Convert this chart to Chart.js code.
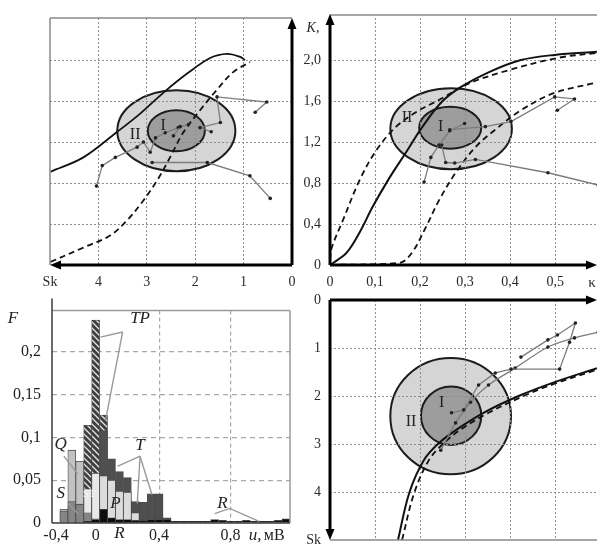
<!DOCTYPE html>
<html>
<head>
<meta charset="utf-8">
<script src="https://cdn.jsdelivr.net/npm/chart.js@4.4.1/dist/chart.umd.min.js"></script>
<style>
  body { margin: 0; background: #fff; width: 601px; height: 548px; position: relative; overflow: hidden; }
  canvas { position: absolute; }
</style>
</head>
<body>
<canvas id="tl" width="300" height="300" style="left:0;top:0"></canvas>
<canvas id="tr" width="301" height="300" style="left:300px;top:0"></canvas>
<canvas id="bl" width="300" height="258" style="left:0;top:290px"></canvas>
<canvas id="br" width="301" height="258" style="left:300px;top:290px"></canvas>
<script>
// ---- tick labels ----
const kTicks = [0, 0.4, 0.8, 1.2, 1.6, 2.0];
const kLabels = ['0', '0,4', '0,8', '1,2', '1,6', '2,0'];
const skTicks = [0, 1, 2, 3, 4, 5];
const skLabels = ['0', '1', '2', '3', '4', 'Sk'];
const kappaTicks = [0, 0.1, 0.2, 0.3, 0.4, 0.5];
const kappaLabels = ['0', '0,1', '0,2', '0,3', '0,4', '0,5'];
const fTicks = [0, 0.05, 0.1, 0.15, 0.2];
const fLabels = ['0', '0,05', '0,1', '0,15', '0,2'];

// ---- top left: K against Sk ----
const tlSolid = [[4.99, 0.91], [4.31, 1.05], [3.61, 1.30], [3.13, 1.48], [2.66, 1.68], [2.16, 1.87], [1.69, 2.02], [1.34, 2.06], [1.07, 2.03], [0.97, 2.0]];
const tlDashed = [[4.99, 0.03], [4.31, 0.17], [3.75, 0.29], [3.40, 0.44], [3.07, 0.63], [2.78, 0.83], [2.52, 1.05], [2.25, 1.29], [1.90, 1.51], [1.55, 1.71], [1.22, 1.88], [0.87, 1.98]];
const tlTrack1 = [[4.04, 0.77], [3.92, 0.97], [3.65, 1.05], [3.20, 1.15], [3.07, 1.20], [2.93, 1.10], [2.82, 1.24], [2.62, 1.29], [2.35, 1.34]];
const tlTrack2 = [[2.89, 1.0], [1.75, 1.0], [0.87, 0.87], [0.45, 0.65]];
const tlTrack3 = [[0.76, 1.49], [0.52, 1.59], [1.55, 1.64], [1.48, 1.39], [1.90, 1.34], [1.67, 1.30]];
const tlTrack4 = [[2.45, 1.26], [2.31, 1.35], [2.14, 1.37]];
const tlZoneII = [2.39, 1.31, 1.22, 0.395];   // centre Sk, centre K, half-width, half-height
const tlZoneI = [2.39, 1.31, 0.59, 0.20];

// ---- top right: K against kappa ----
const trSolid = [[0, 0], [0.007, 0.02], [0.037, 0.12], [0.066, 0.32], [0.095, 0.57], [0.132, 0.85], [0.169, 1.10], [0.204, 1.34], [0.248, 1.59], [0.292, 1.74], [0.352, 1.88], [0.424, 2.0], [0.499, 2.05], [0.593, 2.08]];
const trDashed1 = [[0, 0.05], [0.004, 0.17], [0.029, 0.44], [0.066, 0.83], [0.103, 1.12], [0.147, 1.35], [0.198, 1.51], [0.242, 1.61], [0.308, 1.77], [0.396, 1.90], [0.505, 2.02], [0.593, 2.07]];
const trDashed2 = [[0, 0], [0.154, 0.02], [0.182, 0.12], [0.213, 0.37], [0.242, 0.63], [0.279, 0.90], [0.323, 1.15], [0.367, 1.32], [0.424, 1.51], [0.499, 1.68], [0.593, 1.78]];
const trTrack1 = [[0.209, 0.81], [0.224, 1.05], [0.242, 1.17], [0.266, 1.31], [0.299, 1.38]];
const trTrack2 = [[0.248, 1.17], [0.257, 1.0], [0.277, 0.995], [0.323, 1.03], [0.484, 0.90], [0.596, 0.78]];
const trTrack3 = [[0.266, 1.32], [0.345, 1.35], [0.402, 1.40], [0.499, 1.64], [0.543, 1.62], [0.505, 1.51]];
const trZoneII = [0.269, 1.33, 0.135, 0.395];
const trZoneI = [0.267, 1.34, 0.069, 0.205];

// ---- bottom right: Sk against kappa ----
const brSolid = [[0.151, 5.0], [0.176, 4.02], [0.209, 3.33], [0.242, 2.98], [0.286, 2.67], [0.345, 2.33], [0.424, 1.98], [0.499, 1.71], [0.593, 1.42]];
const brDashed = [[0.160, 5.0], [0.187, 4.02], [0.220, 3.33], [0.253, 2.98], [0.290, 2.70], [0.350, 2.36], [0.430, 2.0], [0.500, 1.74], [0.593, 1.45]];
const brUpper = [[0.246, 3.13], [0.279, 2.56], [0.312, 2.13], [0.352, 1.77], [0.411, 1.42], [0.484, 0.98], [0.543, 0.79], [0.596, 0.67]];
const brTrack = [[0.270, 2.35], [0.297, 2.29], [0.330, 1.77], [0.367, 1.52], [0.402, 1.44], [0.510, 1.44], [0.532, 0.88], [0.545, 0.48], [0.505, 0.73], [0.484, 0.83], [0.424, 1.19]];
const brZoneII = [0.268, 2.42, 0.134, 1.21];
const brZoneI = [0.269, 2.41, 0.067, 0.61];

// ---- bottom left: histogram of amplitudes, u, mV ----
const binLabels = ['-0,4', '', '', '', '', '0', '', '', '', '', '', '', '', '0,4', '', '', '', '', '', '', '', '', '0,8', '', '', '', '', '', '', ''];
const fR  = [0, 0, 0, 0, 0.002, 0.004, 0.016, 0.006, 0.004, 0.004, 0.003, 0.003, 0.004, 0.004, 0.004, 0.002, 0.002, 0.002, 0.002, 0.002, 0.004, 0.003, 0.002, 0.002, 0.003, 0.002, 0.002, 0.002, 0.003, 0.005];
const fS  = [0, 0.014, 0.025, 0.022, 0.012, 0.005, 0, 0, 0, 0, 0, 0, 0, 0, 0, 0, 0, 0, 0, 0, 0, 0, 0, 0, 0, 0, 0, 0, 0, 0];
const fST = [0, 0, 0, 0, 0.040, 0.058, 0, 0, 0, 0, 0, 0, 0, 0, 0, 0, 0, 0, 0, 0, 0, 0, 0, 0, 0, 0, 0, 0, 0, 0];
const fP  = [0, 0, 0, 0, 0, 0, 0.055, 0.050, 0.037, 0.036, 0.012, 0, 0, 0, 0, 0, 0, 0, 0, 0, 0, 0, 0, 0, 0, 0, 0, 0, 0, 0];
const fQ  = [0, 0.016, 0.085, 0.072, 0, 0, 0, 0, 0, 0, 0, 0, 0, 0, 0, 0, 0, 0, 0, 0, 0, 0, 0, 0, 0, 0, 0, 0, 0, 0];
const fT  = [0, 0, 0, 0, 0, 0, 0.108, 0.075, 0.060, 0.053, 0.025, 0.024, 0.034, 0.034, 0.006, 0, 0, 0, 0, 0, 0, 0, 0, 0, 0, 0, 0, 0, 0, 0];
const fTP = [0, 0, 0, 0, 0.114, 0.237, 0.126, 0, 0, 0, 0, 0, 0, 0, 0, 0, 0, 0, 0, 0, 0, 0, 0, 0, 0, 0, 0, 0, 0, 0];
const histGridBins = [13, 22];
const histNotes = [['TP', 10.6, 0.239], ['Q', 0.6, 0.092], ['T', 10.6, 0.091], ['S', 0.6, 0.034], ['P', 7.5, 0.023], ['R', 21, 0.023], ['R', 8, -0.012]];
const histLeaders = [
  [[8.4, 0.223], [5.6, 0.217]], [[8.4, 0.223], [6.25, 0.12]],
  [[10.6, 0.078], [7.75, 0.066]], [[10.6, 0.078], [10.25, 0.023]], [[10.6, 0.078], [12.1, 0.033]],
  [[1.0, 0.078], [2.75, 0.057]], [[1.5, 0.023], [2.75, 0.011]],
  [[20, 0.011], [21.9, 0.017], [25.6, 0.002]]
];

const serif = '"Liberation Serif", "DejaVu Serif", serif';
const tickFont = { family: serif, size: 14 };
const pts = a => a.map(([x, y]) => ({ x, y }));

function curve(data, dashed, width) {
  return { data: pts(data), showLine: true, borderColor: '#111', borderWidth: width || 1.8,
           borderDash: dashed ? [6, 4] : [], pointRadius: 0, tension: 0.35, fill: false };
}
function track(data, smooth) {
  return { data: pts(data), showLine: true, borderColor: '#7c7c7c', borderWidth: 1.3, pointRadius: 1.8,
           pointBackgroundColor: '#222', pointBorderWidth: 0, tension: smooth ? 0.3 : 0, fill: false };
}

function axis(min, max, ticks, labels, size, gridVals, extra) {
  return Object.assign({
    type: 'linear', min, max,
    afterBuildTicks: s => { s.ticks = ticks.map(v => ({ value: v })); },
    afterFit: s => {
      if (s.isHorizontal()) s.height = size; else s.width = size;
      // edge labels must not push the plot area in
      s.paddingTop = 0; s.paddingBottom = 0; s.paddingLeft = 0; s.paddingRight = 0;
    },
    ticks: { display: !!labels, autoSkip: false, maxRotation: 0, padding: 9, color: '#2a2a2a', font: tickFont,
             callback: (v, i) => labels ? labels[i] : '' },
    grid: { drawTicks: false, lineWidth: 1,
            color: c => (c.tick && gridVals.includes(c.tick.value)) ? '#8f8f8f' : 'rgba(0,0,0,0)' },
    border: { display: false, dash: [2, 2] }
  }, extra || {});
}

function arrow(ctx, x1, y1, x2, y2) {
  const a = Math.atan2(y2 - y1, x2 - x1), L = 11, W = 4.5;
  ctx.beginPath();
  ctx.moveTo(x1, y1);
  ctx.lineTo(x2 - L * 0.7 * Math.cos(a), y2 - L * 0.7 * Math.sin(a));
  ctx.stroke();
  ctx.beginPath();
  ctx.moveTo(x2, y2);
  ctx.lineTo(x2 - L * Math.cos(a) + W * Math.sin(a), y2 - L * Math.sin(a) - W * Math.cos(a));
  ctx.lineTo(x2 - L * Math.cos(a) - W * Math.sin(a), y2 - L * Math.sin(a) + W * Math.cos(a));
  ctx.closePath();
  ctx.fill();
}

function line(ctx, x1, y1, x2, y2, color, w) {
  ctx.save();
  ctx.strokeStyle = color; ctx.lineWidth = w;
  ctx.beginPath(); ctx.moveTo(x1, y1); ctx.lineTo(x2, y2); ctx.stroke();
  ctx.restore();
}

// grey zones I and II, drawn under the grid
function zones(outer, inner, labels) {
  return {
    id: 'zones',
    beforeDraw(chart) {
      const { ctx, scales: { x, y } } = chart;
      [[outer, '#d5d5d5'], [inner, '#9d9d9d']].forEach(([z, fill]) => {
        const cx = x.getPixelForValue(z[0]), cy = y.getPixelForValue(z[1]);
        const rx = Math.abs(x.getPixelForValue(z[0] + z[2]) - cx);
        const ry = Math.abs(y.getPixelForValue(z[1] + z[3]) - cy);
        ctx.save();
        ctx.beginPath();
        ctx.ellipse(cx, cy, rx, ry, 0, 0, Math.PI * 2);
        ctx.fillStyle = fill; ctx.fill();
        ctx.lineWidth = 2; ctx.strokeStyle = '#1c1c1c'; ctx.stroke();
        ctx.restore();
      });
    },
    afterDatasetsDraw(chart) {
      const { ctx, scales: { x, y } } = chart;
      ctx.save();
      ctx.font = '16px ' + serif; ctx.fillStyle = '#222';
      ctx.textAlign = 'center'; ctx.textBaseline = 'middle';
      labels.forEach(([t, vx, vy]) => ctx.fillText(t, x.getPixelForValue(vx), y.getPixelForValue(vy)));
      ctx.restore();
    }
  };
}

// thick arrowed axes and thin frame lines
function frame(draw) {
  return {
    id: 'frame',
    afterDraw(chart) {
      const ctx = chart.ctx;
      ctx.save();
      ctx.strokeStyle = '#000'; ctx.fillStyle = '#000'; ctx.lineWidth = 3;
      draw(ctx, chart.chartArea, chart);
      ctx.restore();
    }
  };
}

const common = {
  responsive: false, animation: false, events: [],
  plugins: { legend: { display: false }, tooltip: { enabled: false } }
};

// ---------- top left ----------
new Chart(document.getElementById('tl'), {
  type: 'scatter',
  data: { datasets: [track(tlTrack4), track(tlTrack1), track(tlTrack2), track(tlTrack3),
                     curve(tlSolid, false), curve(tlDashed, true)] },
  options: Object.assign({}, common, {
    layout: { padding: { left: 50, top: 18, right: 8, bottom: 0 } },
    scales: {
      x: axis(0, 5, skTicks, skLabels, 35, [1, 2, 3, 4], { reverse: true }),
      y: axis(0, 2.41, kTicks, null, 0, [0.4, 0.8, 1.2, 1.6, 2.0])
    }
  }),
  plugins: [zones(tlZoneII, tlZoneI, [['II', 3.24, 1.27], ['I', 2.66, 1.36]]),
    frame((ctx, a) => {
      line(ctx, a.left, a.top, a.right, a.top, '#8a8a8a', 1.5);
      line(ctx, a.left, a.top, a.left, a.bottom, '#8a8a8a', 1.5);
      arrow(ctx, a.right, a.bottom, a.left, a.bottom);
      arrow(ctx, a.right, a.bottom, a.right, a.top);
    })]
});

// ---------- top right ----------
new Chart(document.getElementById('tr'), {
  type: 'scatter',
  data: { datasets: [track(trTrack1), track(trTrack2), track(trTrack3),
                     curve(trSolid, false, 2), curve(trDashed1, true), curve(trDashed2, true)] },
  options: Object.assign({}, common, {
    layout: { padding: { left: 0, top: 18, right: 1, bottom: 0 } },
    scales: {
      x: axis(0, 0.593, kappaTicks, kappaLabels, 35, [0.1, 0.2, 0.3, 0.4, 0.5]),
      y: axis(0, 2.41, kTicks, kLabels, 30, [0.4, 0.8, 1.2, 1.6, 2.0])
    }
  }),
  plugins: [zones(trZoneII, trZoneI, [['II', 0.171, 1.44], ['I', 0.246, 1.35]]),
    frame((ctx, a) => {
      line(ctx, a.left, a.top - 3, a.right, a.top - 3, '#8a8a8a', 1.5);
      arrow(ctx, a.left, a.bottom, a.left, a.top - 4);
      arrow(ctx, a.left, a.bottom, a.right, a.bottom);
      ctx.fillStyle = '#2a2a2a';
      ctx.textAlign = 'center'; ctx.textBaseline = 'middle';
      ctx.font = 'italic 14px ' + serif;
      ctx.fillText('K,', a.left - 17, a.top + 10);
      ctx.font = '15px ' + serif;
      ctx.fillText('κ', a.right - 5, a.bottom + 18);
    })]
});

// ---------- bottom right ----------
new Chart(document.getElementById('br'), {
  type: 'scatter',
  data: { datasets: [track(brTrack), track(brUpper, true),
                     curve(brDashed, true), curve(brSolid, false, 2)] },
  options: Object.assign({}, common, {
    layout: { padding: { left: 0, top: 10, right: 1, bottom: 8 } },
    scales: {
      x: axis(0, 0.593, kappaTicks, null, 0, [0.1, 0.2, 0.3, 0.4, 0.5]),
      y: axis(0, 5, skTicks, skLabels, 30, [1, 2, 3, 4], { reverse: true })
    }
  }),
  plugins: [zones(brZoneII, brZoneI, [['II', 0.18, 2.54], ['I', 0.248, 2.15]]),
    frame((ctx, a) => {
      line(ctx, a.left, a.bottom, a.right, a.bottom, '#8a8a8a', 1.5);
      arrow(ctx, a.left, a.top, a.right, a.top);
      arrow(ctx, a.left, a.top, a.left, a.bottom);
    })]
});

// ---------- bottom left: histogram ----------
function hatch() {
  const c = document.createElement('canvas');
  c.width = c.height = 6;
  const g = c.getContext('2d');
  g.fillStyle = '#3e3e3e'; g.fillRect(0, 0, 6, 6);
  g.strokeStyle = '#e6e6e6'; g.lineWidth = 1.3;
  g.beginPath();
  g.moveTo(0, 0); g.lineTo(6, 6);
  g.moveTo(-3, 3); g.lineTo(3, 9);
  g.moveTo(3, -3); g.lineTo(9, 3);
  g.stroke();
  return g.createPattern(c, 'repeat');
}
const histFont = { family: serif, size: 16 };
const bars = (data, color) => ({ data, backgroundColor: color, borderColor: '#4a4a4a', borderWidth: 0.8 });

new Chart(document.getElementById('bl'), {
  type: 'bar',
  data: {
    labels: binLabels,
    datasets: [bars(fR, '#0d0d0d'), bars(fS, '#858585'), bars(fST, '#e8e8e8'), bars(fP, '#dcdcdc'),
               bars(fQ, '#c2c2c2'), bars(fT, '#4f4f4f'), bars(fTP, hatch())]
  },
  options: Object.assign({}, common, {
    layout: { padding: { left: 0, top: 10, right: 10, bottom: 0 } },
    datasets: { bar: { grouped: false, categoryPercentage: 1, barPercentage: 1 } },
    scales: {
      x: {
        afterFit: s => { s.height = 25; },
        ticks: { autoSkip: false, maxRotation: 0, padding: 3, color: '#222', font: histFont },
        grid: { offset: false, drawTicks: false, lineWidth: 1.2,
                color: c => histGridBins.includes(c.index) ? '#a8a8a8' : 'rgba(0,0,0,0)' },
        border: { display: false, dash: [4, 3] }
      },
      y: {
        min: 0, max: 0.248,
        afterBuildTicks: s => { s.ticks = fTicks.map(v => ({ value: v })); },
        afterFit: s => { s.width = 52; },
        ticks: { padding: 11, color: '#222', font: histFont, callback: (v, i) => fLabels[i] },
        grid: { drawTicks: false, lineWidth: 1.2,
                color: c => (c.tick && c.tick.value > 0) ? '#a8a8a8' : 'rgba(0,0,0,0)' },
        border: { display: false, dash: [5, 4] }
      }
    }
  }),
  plugins: [{
    id: 'notes',
    afterDraw(chart) {
      const { ctx, chartArea: a, scales: { x, y } } = chart;
      ctx.save();
      line(ctx, a.left, a.top, a.right, a.top, '#9a9a9a', 1.5);
      line(ctx, a.right, a.top, a.right, a.bottom, '#9a9a9a', 1.5);
      line(ctx, a.left, a.top - 12, a.left, a.bottom, '#3a3a3a', 1.5);
      line(ctx, a.left, a.bottom, a.right, a.bottom, '#3a3a3a', 1.5);
      ctx.strokeStyle = '#9a9a9a'; ctx.lineWidth = 1.4;
      histLeaders.forEach(path => {
        ctx.beginPath();
        path.forEach(([b, f], i) => {
          const px = x.getPixelForValue(b), py = y.getPixelForValue(f);
          if (i) ctx.lineTo(px, py); else ctx.moveTo(px, py);
        });
        ctx.stroke();
      });
      ctx.textAlign = 'center'; ctx.textBaseline = 'middle';
      ctx.font = 'italic 17px ' + serif; ctx.fillStyle = '#222';
      histNotes.forEach(([t, b, f]) => ctx.fillText(t, x.getPixelForValue(b), y.getPixelForValue(f)));
      ctx.font = '11px ' + serif; ctx.fillStyle = '#f5f5f5';
      ctx.fillText('ST', x.getPixelForValue(4.2), y.getPixelForValue(0.034));
      ctx.fillStyle = '#222';
      ctx.font = 'italic 17px ' + serif;
      ctx.fillText('F', 13, a.top + 8);
      ctx.textAlign = 'left';
      ctx.fillText('u,', x.getPixelForValue(24.3), a.bottom + 13);
      ctx.font = '16px ' + serif;
      ctx.fillText('мВ', x.getPixelForValue(26.2), a.bottom + 13);
      ctx.restore();
    }
  }]
});
</script>
</body>
</html>
